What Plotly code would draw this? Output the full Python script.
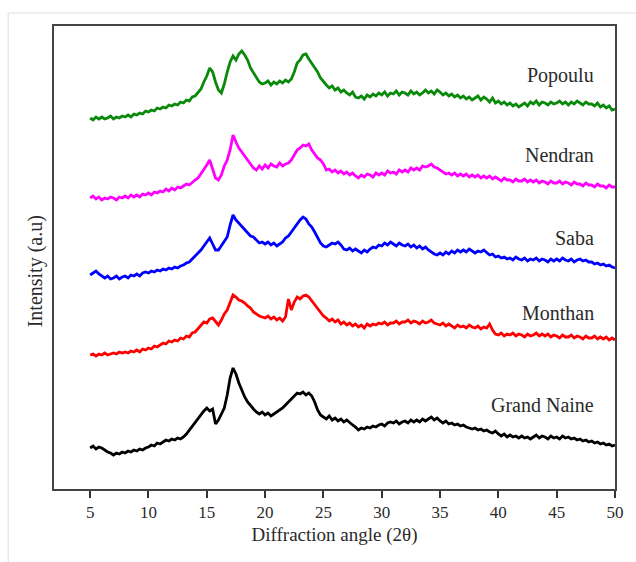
import numpy as np
import plotly.graph_objects as go

# 2-theta grid, 0.25 degree steps from 5 to 50
two_theta = [5 + 0.25 * i for i in range(181)]

popoulu = [
    382, 380, 383, 381, 383, 381, 382, 384, 381, 383, 382, 384, 383, 385, 383, 386,
    385, 387, 386, 389, 388, 390, 389, 392, 391, 393, 392, 395, 394, 396, 395, 398,
    397, 400, 399, 403, 404, 407, 411, 418, 424, 432, 428, 418, 410, 407, 416, 428,
    438, 444, 440, 446, 449, 445, 440, 432, 427, 423, 418, 416, 417, 419, 415, 418,
    416, 419, 417, 420, 418, 421, 428, 437, 440, 445, 446, 441, 437, 432, 428, 422,
    418, 415, 412, 414, 410, 412, 408, 410, 407, 405, 408, 403, 402, 404, 401, 405,
    403, 406, 404, 407, 405, 408, 404, 407, 406, 409, 405, 408, 407, 405, 409, 406,
    408, 405, 407, 410, 407, 409, 406, 410, 408, 405, 407, 404, 406, 403, 405, 402,
    404, 401, 403, 400, 402, 404, 400, 403, 401, 398, 402, 397, 399, 396, 398, 395,
    397, 394, 396, 393, 395, 397, 394, 398, 396, 399, 395, 398, 397, 395, 398, 396,
    397, 399, 396, 398, 395, 398, 396, 399, 397, 395, 398, 396, 396, 394, 397, 393,
    395, 392, 394, 390, 391,
]

nendran = [
    302, 304, 301, 303, 300, 302, 301, 303, 302, 300, 303, 302, 304, 302, 305, 303,
    305, 303, 306, 305, 307, 305, 308, 307, 309, 308, 311, 309, 312, 310, 313, 312,
    314, 316, 315, 318, 320, 322, 326, 331, 335, 340, 332, 322, 320, 325, 334, 340,
    350, 365, 358, 352, 348, 344, 340, 335, 332, 330, 334, 331, 335, 332, 336, 334,
    333, 337, 334, 336, 337, 340, 345, 350, 352, 355, 354, 356, 350, 346, 342, 340,
    336, 330, 331, 328, 330, 327, 329, 326, 328, 325, 327, 324, 322, 325, 323, 326,
    325, 323, 327, 325, 327, 325, 329, 327, 328, 326, 330, 328, 330, 328, 332, 330,
    332, 330, 334, 333, 334, 336, 333, 332, 330, 328, 326, 327, 325, 327, 324, 326,
    324, 326, 323, 325, 323, 325, 322, 324, 322, 324, 321, 323, 321, 319, 322, 320,
    320, 318, 321, 319, 319, 321, 318, 320, 318, 320, 317, 319, 318, 316, 319, 317,
    317, 319, 316, 318, 317, 315, 318, 316, 316, 314, 317, 315, 315, 313, 316, 314,
    314, 312, 315, 313, 313,
]

saba = [
    225, 227, 229, 226, 224, 222, 224, 221, 222, 224, 221, 223, 224, 222, 225, 224,
    226, 224, 227, 228, 227, 229, 228, 230, 229, 231, 230, 232, 231, 233, 232, 234,
    235, 237, 238, 241, 243, 247, 250, 254, 258, 262, 256, 250, 250, 254, 259, 263,
    275, 285, 280, 277, 274, 270, 267, 264, 263, 260, 257, 258, 256, 258, 255, 257,
    254, 256, 258, 262, 264, 268, 272, 277, 280, 283, 281, 276, 273, 268, 262, 257,
    254, 253, 255, 257, 256, 258, 255, 251, 250, 252, 249, 251, 249, 247, 250, 248,
    251, 253, 252, 255, 254, 257, 255, 258, 256, 254, 257, 255, 254, 256, 253, 255,
    252, 254, 251, 253, 250, 248, 246, 245, 247, 245, 248, 246, 249, 247, 250, 248,
    250, 248, 251, 249, 247, 249, 248, 250, 247, 245, 246, 243, 244, 242, 243, 241,
    242, 240, 243, 241, 240, 242, 239, 241, 240, 242, 239, 241, 240, 238, 241, 239,
    241, 239, 242, 240, 239, 241, 238, 240, 241, 239, 240, 238, 238, 236, 237, 235,
    236, 234, 235, 233, 232,
]

monthan = [
    145, 146, 144, 146, 145, 147, 145, 146, 147, 146, 148, 147, 148, 147, 149, 148,
    150, 148, 151, 150, 152, 151, 154, 153, 155, 157, 156, 159, 158, 160, 159, 162,
    161, 164, 163, 167, 168, 171, 174, 178, 177, 181, 182, 179, 175, 180, 186, 190,
    198, 205, 203, 200, 199, 197, 194, 192, 188, 186, 184, 183, 182, 184, 181, 183,
    180, 182, 179, 183, 201, 190, 198, 203, 201, 204, 205, 203, 199, 196, 191, 187,
    184, 182, 179, 181, 178, 180, 176, 178, 175, 177, 174, 176, 173, 175, 172, 176,
    174, 176, 175, 177, 176, 178, 175, 177, 177, 179, 176, 178, 178, 180, 177, 179,
    178, 176, 179, 177, 178, 180, 177, 176, 175, 177, 174, 176, 174, 172, 175, 173,
    174, 172, 175, 173, 172, 174, 171, 173, 172, 176, 170, 166, 165, 167, 164, 166,
    165, 167, 164, 166, 165, 163, 166, 164, 165, 167, 164, 166, 164, 166, 163, 165,
    164, 162, 165, 163, 163, 165, 162, 164, 163, 161, 164, 162, 162, 164, 161, 163,
    161, 163, 160, 162, 160,
]

grand_naine = [
    52, 54, 51, 53, 52, 50, 48, 47, 45, 47, 46, 48, 47, 49, 48, 50,
    49, 51, 50, 52, 53, 55, 54, 57, 56, 58, 60, 59, 61, 60, 62, 61,
    63, 66, 70, 74, 77, 81, 85, 89, 92, 89, 91, 76, 80, 86, 92, 105,
    122, 132, 126, 117, 110, 103, 98, 94, 91, 88, 86, 88, 85, 87, 84, 86,
    88, 90, 92, 95, 98, 101, 104, 107, 106, 108, 105, 107, 104, 98, 90, 85,
    83, 81, 84, 80, 82, 79, 81, 78, 80, 77, 75, 73, 70, 72, 71, 73,
    72, 74, 73, 75, 76, 74, 77, 78, 77, 79, 76, 78, 79, 77, 80, 78,
    80, 78, 81, 79, 81, 83, 80, 82, 79, 77, 79, 76, 77, 75, 76, 74,
    75, 73, 72, 71, 72, 70, 71, 69, 70, 68, 67, 69, 66, 64, 66, 63,
    65, 63, 64, 62, 64, 62, 63, 61, 63, 65, 62, 64, 63, 61, 64, 62,
    63, 61, 64, 62, 63, 61, 62, 60, 61, 59, 60, 58, 59, 57, 58, 56,
    57, 55, 56, 54, 55,
]

series_names = ["Popoulu", "Nendran", "Saba", "Monthan", "Grand Naine"]
series_values = [popoulu, nendran, saba, monthan, grand_naine]
series_colors = ["#0a8a0a", "#ff00ff", "#0000ff", "#ff0000", "#000000"]
label_y = [425, 345, 262, 187, 95]

x_ticks = [5, 10, 15, 20, 25, 30, 35, 40, 45, 50]

fig = go.Figure()
for name, vals, col in zip(series_names, series_values, series_colors):
    fig.add_trace(go.Scatter(x=two_theta, y=vals, mode="lines", name=name,
                             line=dict(color=col, width=2.8), showlegend=False))

serif = "Liberation Serif, Times New Roman, serif"
for name, ly in zip(series_names, label_y):
    fig.add_annotation(x=48.4, y=ly, text=name, showarrow=False, xanchor="right",
                       yanchor="middle", font=dict(family=serif, size=20, color="#2a2a2a"))

# y-axis title placed as in the original (slightly below the plot centre)
fig.add_annotation(xref="paper", yref="paper", x=-0.034, y=0.47, text="Intensity (a.u)",
                   textangle=-90, showarrow=False, xanchor="center", yanchor="middle",
                   font=dict(family=serif, size=20, color="#2a2a2a"))

fig.update_layout(
    width=636, height=562,
    margin=dict(l=54, r=19, t=26, b=73),
    paper_bgcolor="white", plot_bgcolor="white",
    font=dict(family=serif, color="#2a2a2a"),
)
fig.update_xaxes(range=[1.9, 50], tickvals=x_ticks, ticks="outside", ticklen=7,
                 tickwidth=1.5, tickcolor="#333", showline=True, linecolor="#444",
                 linewidth=2, mirror=True, showgrid=False, zeroline=False,
                 tickfont=dict(family=serif, size=17, color="#2a2a2a"),
                 title=dict(text="Diffraction angle (2θ)", font=dict(family=serif, size=19, color="#2a2a2a"),
                            standoff=6))
fig.update_yaxes(range=[11, 474], showticklabels=False, ticks="", showline=True,
                 linecolor="#444", linewidth=2, mirror=True, showgrid=False, zeroline=False)

# light outer frame of the original figure
fig.add_shape(type="line", xref="paper", yref="paper", x0=-0.0817, x1=-0.0817, y0=1.028, y1=-0.3,
              line=dict(color="#dddddd", width=1))
fig.add_shape(type="line", xref="paper", yref="paper", x0=-0.0817, x1=1.2, y0=1.028, y1=1.028,
              line=dict(color="#dddddd", width=1))

fig.write_html("out.html")
